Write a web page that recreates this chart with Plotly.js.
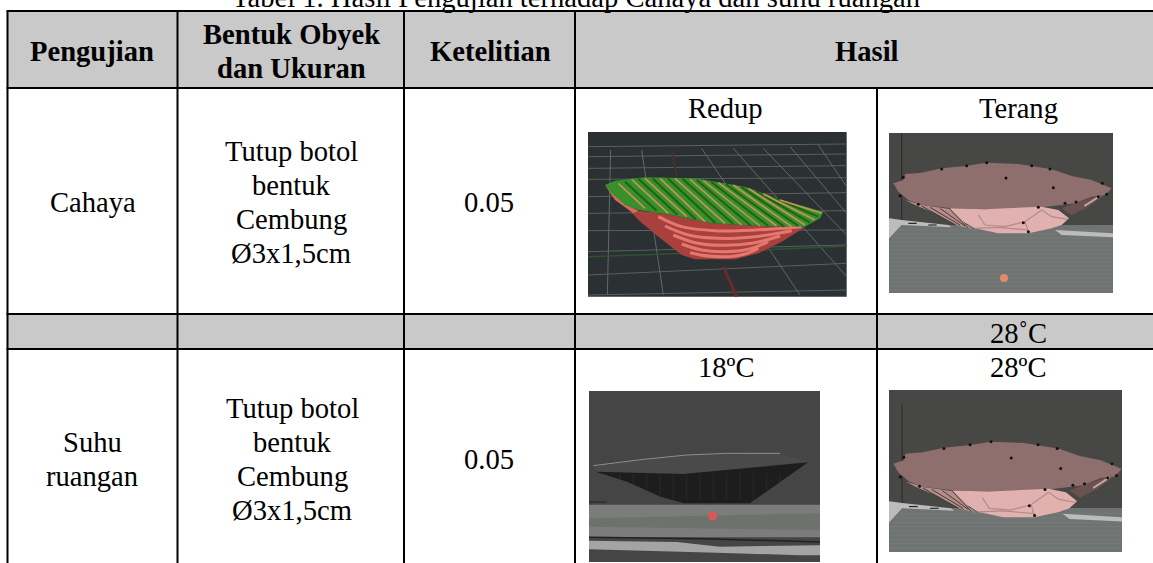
<!DOCTYPE html>
<html><head><meta charset="utf-8">
<script src="https://cdn.plot.ly/plotly-3.0.1.min.js"></script>
<style>html,body{margin:0;padding:0;background:#fff;overflow:hidden}</style>
</head><body><div id="chart" style="width:1153px;height:563px"></div>
<script>
// ---- table content ----
const titleText = "Tabel 1. Hasil Pengujian terhadap Cahaya dan suhu ruangan";
const headers = ["Pengujian", "Bentuk Obyek<br>dan Ukuran", "Ketelitian", "Hasil"];
const rowTests = ["Cahaya", "Suhu<br>ruangan"];
const objectDesc = "Tutup botol<br>bentuk<br>Cembung<br>Ø3x1,5cm";
const precision = "0.05";
const resultLabels = ["Redup", "Terang", "18ºC", "28ºC"];
const greyRowLabel = "28˚C";
// ---- table grid ----
const colEdges = [7.5, 177.5, 404, 575, 877, 1153];
const rowEdges = [11, 88, 314, 349, 563];

const BLACK = "#000", GREY = "#c9c9c9";
const traces = [], shapes = [], annotations = [];
const poly = (pts, fill, tf) => { const p = pts.map(tf);
  traces.push({x:p.map(q=>q[0]), y:p.map(q=>q[1]), mode:"lines", fill:"toself", fillcolor:fill,
    line:{width:0,color:fill}, hoverinfo:"skip", showlegend:false}); };
const line = (pts, col, w, tf, shape) => { const p = pts.map(tf);
  traces.push({x:p.map(q=>q[0]), y:p.map(q=>q[1]), mode:"lines", line:{width:w,color:col,shape:shape||"linear"},
    hoverinfo:"skip", showlegend:false}); };
const dots = (pts, col, size, tf) => { const p = pts.map(tf);
  traces.push({x:p.map(q=>q[0]), y:p.map(q=>q[1]), mode:"markers", marker:{size:size,color:col},
    hoverinfo:"skip", showlegend:false}); };
const rect = (a,b,c,d) => [[a,b],[c,b],[c,d],[a,d]];

// ---- picture 1: bowl on dark grid ----
const t1 = q => [570+q[0]/3, q[1]/3];
const b1 = q => [595+q[0]/3, 170+q[1]/3];
poly(rect(54,396,830,890), "#2b3033", t1);
const gridH1 = [[440,432],[470,462],[505,497],[538,533],[590,578],[640,632],[692,690],[755,735],[825,790],[885,870]];
gridH1.forEach(g => line([[54,g[0]],[830,g[1]]], "#59605f", 1, t1));
const gridV1 = [[[122,450],[112,885]],[[215,450],[280,885]],[[395,445],[690,885]],[[490,445],[830,830]],[[580,445],[830,705]],[[660,440],[830,640]],[[745,435],[830,560]]];
gridV1.forEach(g => line(g, "#626968", 1, t1));
line([[54,770],[350,760],[830,738]], "#2f5233", 1.5, t1);
line([[305,450],[320,530]], "#4a2f30", 2, t1);
line([[460,800],[500,890]], "#6b2a2c", 3, t1);
const bowlRed = [[30,45],[50,75],[95,110],[130,150],[190,200],[260,255],[300,268],[420,268],[490,250],[560,215],[630,172],[500,168],[350,160],[230,135],[130,122],[90,105]];
poly(bowlRed, "#a8403e", b1);
const arcs1 = [
 [[190,140],[260,170],[360,182],[480,180],[620,170]],
 [[210,168],[280,195],[370,205],[480,200],[590,182]],
 [[235,195],[300,218],[380,226],[470,220],[555,198]],
 [[260,222],[320,240],[390,245],[460,238],[520,215]],
 [[285,248],[340,258],[400,260],[450,252],[490,235]]];
arcs1.forEach(a => line(a, "#e4786e", 3, b1, "spline"));
poly([[30,45],[60,75],[95,105],[130,122],[115,130],[60,90]], "#d9675e", b1);
const bowlGreen = [[30,45],[60,32],[150,22],[300,25],[450,50],[560,90],[685,125],[675,145],[630,170],[500,168],[350,160],[230,135],[130,120],[90,105],[50,70]];
poly(bowlGreen, "#38902a", b1);
const stripes1 = [[[70,40],[150,115]],[[110,28],[220,130]],[[150,25],[275,140]],[[195,25],[330,155]],[[240,25],[390,160]],[[285,28],[440,165]],[[325,32],[495,168]],[[370,38],[545,168]],[[415,45],[590,170]],[[460,55],[630,165]],[[505,72],[660,150]],[[555,90],[680,130]]];
const darkBands1 = [[[90,35],[185,122]],[[130,26],[248,135]],[[172,25],[302,148]],[[218,25],[360,158]],[[262,26],[415,162]],[[305,30],[468,167]],[[348,35],[520,168]],[[392,42],[568,170]],[[438,50],[610,168]],[[482,63],[645,158]],[[530,80],[670,140]]];
darkBands1.forEach(s => line(s, "#1f6216", 2, b1));
stripes1.forEach(s => line(s, "#c8935a", 1.6, b1));

// ---- pictures 2 and 4: rough pink mesh ----
const z2 = q => [885+q[0]/3, 150+q[1]/3];
const meshTop = [[25,100],[55,90],[60,72],[110,68],[170,55],[240,48],[305,38],[400,42],[440,48],[500,58],[560,78],[620,90],[680,115],[660,135],[620,140],[570,160],[530,165],[470,172],[380,180],[260,178],[200,175],[110,165],[70,150],[40,125]];
const meshLow = [[195,175],[300,178],[470,170],[520,180],[552,205],[530,225],[500,235],[430,250],[340,250],[270,235],[235,215]];
const meshFoldL = [[60,150],[110,165],[200,178],[235,215],[260,238],[215,225],[150,190],[90,165]];
const meshFoldR = [[570,160],[630,140],[680,120],[610,170],[560,195],[530,175]];
const meshFoldLines = [[[110,168],[210,225]],[[135,172],[225,225]],[[165,175],[240,228]],[[195,178],[250,235]]];
const meshCreases = [[[280,195],[300,225],[360,230],[420,215],[470,180]],[[420,215],[430,245]],[[470,180],[500,200],[548,208]],[[270,235],[340,232],[430,240]]];
const meshDots = [[363,84],[505,113],[170,57],[245,47],[305,38],[440,47],[495,57],[55,82],[573,156],[100,163],[45,137],[640,140],[665,133],[415,218],[430,245],[540,160],[460,172],[652,100]];
const strips = [[[12,205],[50,210],[190,225],[200,232],[50,225],[12,265]],[[510,240],[685,250],[685,262],[530,255]]];
const brickRows = [240,252,264,276,288,300,312,324,336,348,360,372,384,396,408,420];
function mesh(box, floorY, tf, withDot) {
  const R = q => [Math.min(box[2],Math.max(box[0],q[0])), Math.min(box[3],Math.max(box[1],q[1]))];
  const T = q => R(tf(z2(q)));
  const I = q => q;
  poly(rect(box[0],box[1],box[2],box[3]), "#474746", I);
  poly(rect(box[0],floorY,box[2],box[3]), "#6f7473", I);
  brickRows.forEach(b => { const y = tf(z2([0,b]))[1]; if (y<box[3]-1) line([[box[0],y],[box[2],y]], "#767b7a", 1, I); });
  line([[50,-70],[50,225]].map(T), "#2a2a2a", 1, I);
  strips.forEach(s => poly(s.map(T), "#bcbcbc", I));
  line([[70,220],[95,220]].map(T), "#222", 1.2, I);
  line([[130,225],[155,225]].map(T), "#333", 1.2, I);
  poly(meshFoldR.map(T), "#6a5250", I);
  line([[598,168],[645,138]].map(T), "#caa6a2", 2, I);
  poly(meshFoldL.map(T), "#b58e8a", I);
  meshFoldLines.forEach(l => line(l.map(T), "#4a3a38", 1, I));
  poly(meshTop.map(T), "#8f6e6e", I);
  poly(meshLow.map(T), "#e0b1af", I);
  meshCreases.forEach(l => line(l.map(T), "#b58a88", 1.2, I));
  dots(meshDots.map(T), "#141010", 3, I);
  if (withDot) dots([[357,384]].map(T), "#e58a66", 8, I);
}
mesh([889,133,1113,293], 225, q => q, true);
mesh([889,390,1122,552], 508, q => [893+(q[0]-893)*1.046, 442+(q[1]-163)*1.07], false);

// ---- picture 3: dark bowl ----
const t3 = q => [570+q[0]/3, 300+q[1]/3];
poly(rect(57,273,750,786), "#454545", t3);
poly([[70,500],[220,478],[350,465],[630,460],[715,485],[340,522],[75,515]], "#4a4a4a", t3);
poly([[75,515],[340,522],[715,487],[640,540],[540,610],[340,610],[270,590],[170,545]], "#1d1d1d", t3);
const ribs3 = [150,190,230,270,310,350,390,430,470,510,550,590,630];
ribs3.forEach(r => line([[r,522],[r,600]], "#2a2a2a", 1, t3));
poly([[57,500],[75,515],[170,545],[270,590],[340,610],[57,610]], "#454545", t3);
poly([[750,480],[715,487],[640,540],[540,610],[750,610]], "#454545", t3);
line([[70,497],[220,478],[350,465],[470,460],[630,460]], "#8d8d8d", 1, t3);
poly(rect(57,614,750,712), "#7a7d7a", t3);
poly([[57,655],[750,640],[750,690],[57,680]], "#6e716e", t3);
line([[57,712],[400,716],[750,726]], "#222", 1.5, t3);
poly([[57,722],[320,726],[450,740],[750,736],[750,766],[690,766],[440,758],[210,752],[57,748]], "#a4a4a4", t3);
line([[57,606],[110,606]], "#222", 1, t3);
dots([[428,648]], "#d9575a", 9, t3);

// ---- table background ----
[[0,1],[2,3]].forEach(r => shapes.push({type:"rect",xref:"x",yref:"y",x0:colEdges[0],x1:colEdges[5],y0:rowEdges[r[0]],y1:rowEdges[r[1]],fillcolor:GREY,line:{width:0},layer:"below"}));
rowEdges.slice(0,4).forEach(y => shapes.push({type:"line",xref:"x",yref:"y",x0:colEdges[0]-1,x1:colEdges[5],y0:y,y1:y,line:{color:BLACK,width:2}}));
colEdges.slice(0,4).forEach(x => shapes.push({type:"line",xref:"x",yref:"y",x0:x,x1:x,y0:rowEdges[0],y1:rowEdges[4],line:{color:BLACK,width:2}}));
shapes.push({type:"line",xref:"x",yref:"y",x0:colEdges[4],x1:colEdges[4],y0:rowEdges[1],y1:rowEdges[4],line:{color:BLACK,width:2}});

// ---- text: placed by baseline, one annotation per line ----
const SIZE = 28.6, LEAD = 34, BASE = 0.31*SIZE;
const label = (t,x,baseline,bold) => t.split("<br>").forEach((s,i) => annotations.push({
  text:bold?"<b>"+s+"</b>":s, x, y:baseline+i*LEAD-BASE, xref:"x", yref:"y", showarrow:false,
  xanchor:"center", yanchor:"middle", align:"center", font:{family:"Liberation Serif",size:SIZE,color:"#000"}}));
annotations.push({text:titleText,x:576,y:14.7,xref:"x",yref:"y",showarrow:false,xanchor:"center",yanchor:"bottom",
  font:{family:"Liberation Serif",size:SIZE,color:"#000"}});
label(headers[0],92,60,true);
label(headers[1],291,43,true);
label(headers[2],490,60,true);
label(headers[3],867,60,true);
label(rowTests[0],92.5,211); label(rowTests[1],92,451);
label(objectDesc,291,160); label(objectDesc,292,417);
label(precision,489,211); label(precision,489,468);
label(resultLabels[0],725,117); label(resultLabels[1],1018,117);
label(greyRowLabel,1018,342);
label(resultLabels[2],726,376); label(resultLabels[3],1018,376);

Plotly.newPlot("chart", traces, {
  width:1153, height:563, margin:{l:0,r:0,t:0,b:0}, paper_bgcolor:"#fff", plot_bgcolor:"#fff", showlegend:false,
  xaxis:{range:[0,1153],visible:false,fixedrange:true},
  yaxis:{range:[563,0],visible:false,fixedrange:true},
  shapes, annotations
},{displayModeBar:false,staticPlot:true});
</script></body></html>
